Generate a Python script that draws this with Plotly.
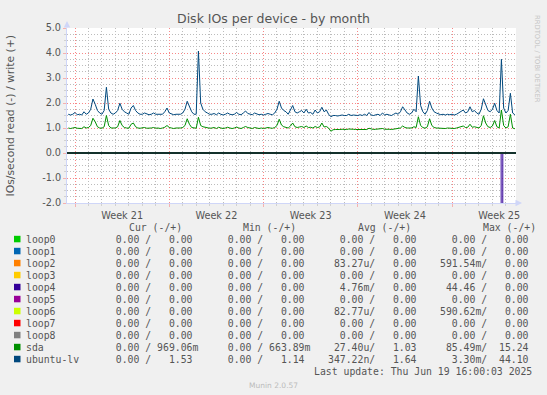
import plotly.graph_objects as go
import pandas as pd

# ---------------- data ----------------
devices = ["loop0", "loop1", "loop2", "loop3", "loop4", "loop5", "loop6",
           "loop7", "loop8", "sda", "ubuntu-lv"]
colors = ["#00CC00", "#0066B3", "#FF8000", "#FFCC00", "#330099", "#990099",
          "#CCFF00", "#FF0000", "#808080", "#008F00", "#00487D"]

x_start = "2025-05-18 09:45"
x_end = "2025-06-20 18:00"
sample_start = "2025-05-18 12:00"
sample_step = "4h"

week_labels = ["Week 21", "Week 22", "Week 23", "Week 24", "Week 25"]
week_starts = ["2025-05-19", "2025-05-26", "2025-06-02", "2025-06-09", "2025-06-16"]
week_label_times = ["2025-05-22 12:00", "2025-05-29 12:00", "2025-06-05 12:00",
                    "2025-06-12 12:00", "2025-06-19 12:00"]

ubuntu_lv_write = [
    1.55, 1.52, 1.55, 1.62, 1.53, 1.55, 1.52, 1.65, 1.55, 1.60,
    1.75, 2.16, 1.95, 1.70, 1.60, 1.55, 1.70, 2.63, 1.75, 1.60,
    1.55, 1.60, 1.70, 1.99, 1.75, 1.65, 1.60, 1.55, 1.80, 1.90,
    1.70, 1.60, 1.55, 1.55, 1.60, 1.55, 1.53, 1.55, 1.60, 1.55,
    1.55, 1.53, 1.55, 1.65, 1.80, 1.60, 1.55, 1.53, 1.55, 1.55,
    1.55, 1.60, 1.75, 2.07, 1.85, 1.65, 1.55, 1.55, 4.08, 2.00,
    1.75, 1.65, 1.60, 1.55, 1.55, 1.58, 1.53, 1.60, 1.55, 1.52,
    1.55, 1.60, 1.55, 1.53, 1.55, 1.62, 1.55, 1.53, 1.60, 1.68,
    1.58, 1.55, 1.53, 1.60, 1.55, 1.53, 1.55, 1.52, 1.55, 1.58,
    1.55, 1.53, 1.60, 1.75, 2.07, 1.80, 1.70, 1.65, 1.55, 1.70,
    1.90, 1.65, 1.60, 1.65, 1.70, 1.60, 1.75, 1.60, 1.62, 1.55,
    1.72, 1.60, 1.65, 1.83, 1.65, 1.72, 1.55, 1.45, 1.50, 1.50,
    1.48, 1.50, 1.52, 1.50, 1.50, 1.55, 1.50, 1.52, 1.50, 1.50,
    1.53, 1.50, 1.55, 1.50, 1.62, 1.52, 1.50, 1.53, 1.55, 1.50,
    1.60, 1.52, 1.55, 1.52, 1.50, 1.55, 1.60, 1.55, 1.65, 1.85,
    1.70, 1.60, 1.55, 1.60, 1.75, 1.65, 3.08, 1.90, 1.65, 1.55,
    1.70, 2.07, 1.80, 1.65, 1.60, 1.55, 1.53, 1.55, 1.52, 1.55,
    1.53, 1.55, 1.52, 1.55, 1.60, 1.65, 1.72, 1.60, 1.65, 1.85,
    1.65, 1.70, 1.60, 1.55, 1.75, 2.17, 1.95, 1.70, 1.65, 1.75,
    1.99, 1.70, 1.60, 3.75, 1.80, 1.60, 1.70, 2.39, 1.60, 1.53,
]
sda_write = [
    1.00, 0.98, 1.00, 1.02, 0.99, 1.00, 0.98, 1.05, 1.00, 1.02,
    1.10, 1.39, 1.25, 1.05, 1.00, 0.99, 1.05, 1.50, 1.10, 1.00,
    0.99, 1.00, 1.05, 1.30, 1.10, 1.02, 1.00, 0.99, 1.15, 1.20,
    1.05, 1.00, 0.99, 1.00, 1.02, 0.99, 0.98, 1.00, 1.02, 0.99,
    1.00, 0.98, 1.00, 1.03, 1.10, 1.02, 1.00, 0.98, 1.00, 0.99,
    1.00, 1.02, 1.10, 1.37, 1.15, 1.02, 1.00, 0.99, 1.43, 1.10,
    1.05, 1.02, 1.00, 0.99, 1.00, 1.02, 0.98, 1.03, 1.00, 0.98,
    1.00, 1.03, 1.00, 0.98, 1.00, 1.04, 1.00, 0.98, 1.02, 1.06,
    1.02, 1.00, 0.98, 1.02, 1.00, 0.98, 1.00, 0.98, 1.00, 1.02,
    1.00, 0.99, 1.02, 1.10, 1.35, 1.12, 1.05, 1.03, 1.00, 1.08,
    1.20, 1.05, 1.02, 1.04, 1.06, 1.02, 1.08, 1.02, 1.03, 1.00,
    1.06, 1.02, 1.04, 1.20, 1.04, 1.06, 1.00, 0.87, 0.93, 0.94,
    0.93, 0.94, 0.95, 0.94, 0.94, 0.96, 0.94, 0.95, 0.94, 0.94,
    0.95, 0.94, 0.96, 0.94, 0.99, 0.95, 0.94, 0.95, 0.96, 0.94,
    0.98, 0.95, 0.96, 0.95, 0.94, 0.96, 0.98, 0.97, 1.00, 1.08,
    1.02, 1.00, 0.99, 1.00, 1.05, 1.02, 1.45, 1.10, 1.02, 0.99,
    1.05, 1.37, 1.10, 1.02, 1.00, 0.99, 0.98, 1.00, 0.98, 1.00,
    0.99, 1.00, 0.98, 1.00, 1.02, 1.04, 1.08, 1.02, 1.03, 1.15,
    1.03, 1.05, 1.02, 1.00, 1.10, 1.49, 1.20, 1.05, 1.02, 1.08,
    1.30, 1.05, 1.00, 1.72, 1.10, 1.00, 1.05, 1.55, 1.00, 0.97,
]

# series that stay flat at zero over the whole month
flat_times = [x_start, x_end]
flat_zero = [0.0, 0.0]

# read (negative side) activity
loop2_read_times = [x_start, "2025-06-13 23:30", "2025-06-14 01:00", "2025-06-14 02:30", x_end]
loop2_read = [0.0, 0.0, 0.04, 0.0, 0.0]
loop4_read_times = [x_start, "2025-06-19 15:30", "2025-06-19 17:00", "2025-06-19 18:30", x_end]
loop4_read = [0.0, 0.0, 44.46, 0.0, 0.0]
loop6_read_times = [x_start, "2025-05-28 01:30", "2025-05-28 03:00", "2025-05-28 04:30", x_end]
loop6_read = [0.0, 0.0, 0.04, 0.0, 0.0]

# legend statistics (read / write)
cur_read = [0, 0, 0, 0, 0, 0, 0, 0, 0, 0, 0]
cur_write = [0, 0, 0, 0, 0, 0, 0, 0, 0, 0.96906, 1.53]
min_read = [0, 0, 0, 0, 0, 0, 0, 0, 0, 0, 0]
min_write = [0, 0, 0, 0, 0, 0, 0, 0, 0, 0.66389, 1.14]
avg_read = [0, 0, 83.27e-6, 0, 4.76e-3, 0, 82.77e-6, 0, 0, 27.40e-6, 347.22e-9]
avg_write = [0, 0, 0, 0, 0, 0, 0, 0, 0, 1.03, 1.64]
max_read = [0, 0, 0.59154, 0, 44.46, 0, 0.59062, 0, 0, 85.49e-3, 3.30e-3]
max_write = [0, 0, 0, 0, 0, 0, 0, 0, 0, 15.24, 44.10]

y_ticks = [-2, -1, 0, 1, 2, 3, 4, 5]
headers = ["Cur (-/+)", "Min (-/+)", "Avg (-/+)", "Max (-/+)"]
title_text = "Disk IOs per device - by month"
y_title = "IOs/second read (-) / write (+)"
last_update = "Last update: Thu Jun 19 16:00:03 2025"
footer = "Munin 2.0.57"
watermark = "RRDTOOL / TOBI OETIKER"

# ---------------- layout constants ----------------
W, H = 547, 395
PL, PR, PT, PB = 67, 516, 28, 203
MONO = "DejaVu Sans Mono"
SANS = "DejaVu Sans"
FONT_COL = "#555555"


def px(x):
    return (x - PL) / (PR - PL)


def py(y):
    return (PB - y) / (PB - PT)


def si(v):
    if v == 0:
        return "%6.2f " % 0.0
    for mult, p in [(1e3, "k"), (1.0, " "), (1e-3, "m"), (1e-6, "u"), (1e-9, "n")]:
        if abs(v) >= mult:
            return "%6.2f%s" % (v / mult, p)
    return "%6.2f " % v


def nb(s):
    return s.replace(" ", "\u00a0")


sample_times = pd.date_range(sample_start, periods=len(ubuntu_lv_write), freq=sample_step)

# grid positions: daily minor lines (skipping the weekly major ones)
week_start_set = set(pd.to_datetime(week_starts))
day_grid = [d for d in pd.date_range("2025-05-18", "2025-06-20", freq="D")
            if d not in week_start_set]
y_minor = [i / 4 for i in range(-8, 21) if i % 4 != 0]

read_data = {
    "loop2": (loop2_read_times, loop2_read),
    "loop4": (loop4_read_times, loop4_read),
    "loop6": (loop6_read_times, loop6_read),
}
write_data = {
    "sda": (sample_times, sda_write),
    "ubuntu-lv": (sample_times, ubuntu_lv_write),
}

fig = go.Figure()
for dev, col in zip(devices, colors):
    rt, rv = read_data.get(dev, (flat_times, flat_zero))
    wt, wv = write_data.get(dev, (flat_times, flat_zero))
    fig.add_trace(go.Scatter(x=list(rt), y=[-v for v in rv], mode="lines",
                             line=dict(color=col, width=1), hoverinfo="skip"))
    fig.add_trace(go.Scatter(x=list(wt), y=list(wv), mode="lines",
                             line=dict(color=col, width=1), hoverinfo="skip"))

grid_major = "rgb(248,135,135)"
grid_minor = "rgb(188,188,188)"
tick_major = "rgba(248,135,135,0.6)"
tick_minor = "rgba(188,188,188,0.6)"

fig.update_layout(
    width=W, height=H,
    margin=dict(l=PL, r=W - PR, t=PT, b=H - PB, pad=0),
    paper_bgcolor="#F0F0F0", plot_bgcolor="#FFFFFF",
    showlegend=False,
    font=dict(family=SANS, color=FONT_COL),
    title=dict(text=title_text, x=0.5, xanchor="center", xref="container",
               y=1 - 19 / H, yanchor="middle", yref="container",
               font=dict(family=SANS, size=12.5, color=FONT_COL)),
    xaxis=dict(
        type="date", range=[x_start, x_end],
        tickmode="array", tickvals=week_starts, showticklabels=False,
        showgrid=True, gridcolor=grid_major, griddash="1px,2px", gridwidth=1,
        ticks="outside", ticklen=3, tickcolor=tick_major,
        minor=dict(tickmode="array", tickvals=day_grid, showgrid=True,
                   gridcolor=grid_minor, griddash="1px,2px", ticks="outside",
                   ticklen=2, tickcolor=tick_minor),
        showline=True, linecolor="#CFD6F8", linewidth=1, zeroline=False,
        fixedrange=True,
    ),
    xaxis2=dict(
        type="date", range=[x_start, x_end], overlaying="x", anchor="y", side="bottom",
        tickmode="array", tickvals=week_label_times, ticktext=week_labels,
        showgrid=False, showline=False, zeroline=False,
        ticks="outside", ticklen=3, tickcolor="rgba(0,0,0,0)",
        tickfont=dict(family=SANS, size=9.7, color=FONT_COL), fixedrange=True,
    ),
    yaxis=dict(
        range=[-2, 5], tickmode="array", tickvals=y_ticks,
        ticktext=["%.1f" % v for v in y_ticks],
        showgrid=True, gridcolor=grid_major, griddash="1px,2px", gridwidth=1,
        ticks="outside", ticklen=3, tickcolor=tick_major,
        minor=dict(tickmode="array", tickvals=y_minor, showgrid=True,
                   gridcolor=grid_minor, griddash="1px,2px", ticks="outside",
                   ticklen=2, tickcolor=tick_minor),
        showline=True, linecolor="#CFD6F8", linewidth=1, zeroline=False,
        tickfont=dict(family=SANS, size=9.7, color=FONT_COL), fixedrange=True,
    ),
)

# an invisible trace so the label axis is drawn
fig.add_trace(go.Scatter(x=week_label_times, y=[None] * len(week_label_times),
                         xaxis="x2", yaxis="y", mode="lines", hoverinfo="skip"))

# black zero rule on top of the series
fig.add_shape(type="line", xref="paper", yref="y", x0=0, x1=1, y0=0, y1=0,
              line=dict(color="#000000", width=1), layer="above")

ann = []
# axis arrows
ann.append(dict(xref="paper", yref="paper", x=0, y=py(21), ax=0, ay=8,
                axref="pixel", ayref="pixel", text="", showarrow=True,
                arrowhead=2, arrowsize=1.3, arrowwidth=1, arrowcolor="#CFD6F8"))
ann.append(dict(xref="paper", yref="paper", x=px(522), y=0, ax=-8, ay=0,
                axref="pixel", ayref="pixel", text="", showarrow=True,
                arrowhead=2, arrowsize=1.3, arrowwidth=1, arrowcolor="#CFD6F8"))
# y-axis title
ann.append(dict(xref="paper", yref="paper", x=px(10), y=py(115.5), text=y_title,
                textangle=-90, showarrow=False, xanchor="center", yanchor="middle",
                font=dict(family=SANS, size=10.8, color=FONT_COL)))
# watermark and footer
ann.append(dict(xref="paper", yref="paper", x=px(537), y=py(59), text=watermark,
                textangle=90, showarrow=False, xanchor="center", yanchor="middle",
                font=dict(family=SANS, size=6.8, color="#C4C4C4")))
ann.append(dict(xref="paper", yref="paper", x=px(273), y=py(385), text=footer,
                showarrow=False, xanchor="center", yanchor="middle",
                font=dict(family=SANS, size=7.5, color="#BBBBBB")))

LEG = dict(family=MONO, size=9.8, color=FONT_COL)
header_x = [129, 243, 357.5, 483]
group_x = [104, 216, 327.5, 439.5]
for hx, h in zip(header_x, headers):
    ann.append(dict(xref="paper", yref="paper", x=px(hx), y=py(227.7), text=nb(h),
                    showarrow=False, xanchor="left", yanchor="middle",
                    borderpad=0, borderwidth=0, font=LEG))

shapes = []
for k, (dev, col) in enumerate(zip(devices, colors)):
    yc = 239.3 + 12 * k
    shapes.append(dict(type="rect", xref="paper", yref="paper",
                       x0=px(14), x1=px(20.5), y0=py(yc + 3), y1=py(yc - 3.5),
                       fillcolor=col, line=dict(width=0)))
    ann.append(dict(xref="paper", yref="paper", x=px(26), y=py(yc), text=nb(dev),
                    showarrow=False, xanchor="left", yanchor="middle",
                    borderpad=0, borderwidth=0, font=LEG))
    pairs = [(cur_read[k], cur_write[k]), (min_read[k], min_write[k]),
             (avg_read[k], avg_write[k]), (max_read[k], max_write[k])]
    for gx, (a, b) in zip(group_x, pairs):
        s = si(a) + "/ " + si(b)
        ann.append(dict(xref="paper", yref="paper", x=px(gx), y=py(yc), text=nb(s),
                        showarrow=False, xanchor="left", yanchor="middle",
                        borderpad=0, borderwidth=0, font=LEG))

ann.append(dict(xref="paper", yref="paper", x=px(532), y=py(371), text=nb(last_update),
                showarrow=False, xanchor="right", yanchor="middle",
                borderpad=0, borderwidth=0, font=LEG))

for s in shapes:
    fig.add_shape(**s)
fig.update_layout(annotations=ann)

fig.write_html("out.html", config={"displayModeBar": False},
               post_script="document.body.style.margin='0px';")
